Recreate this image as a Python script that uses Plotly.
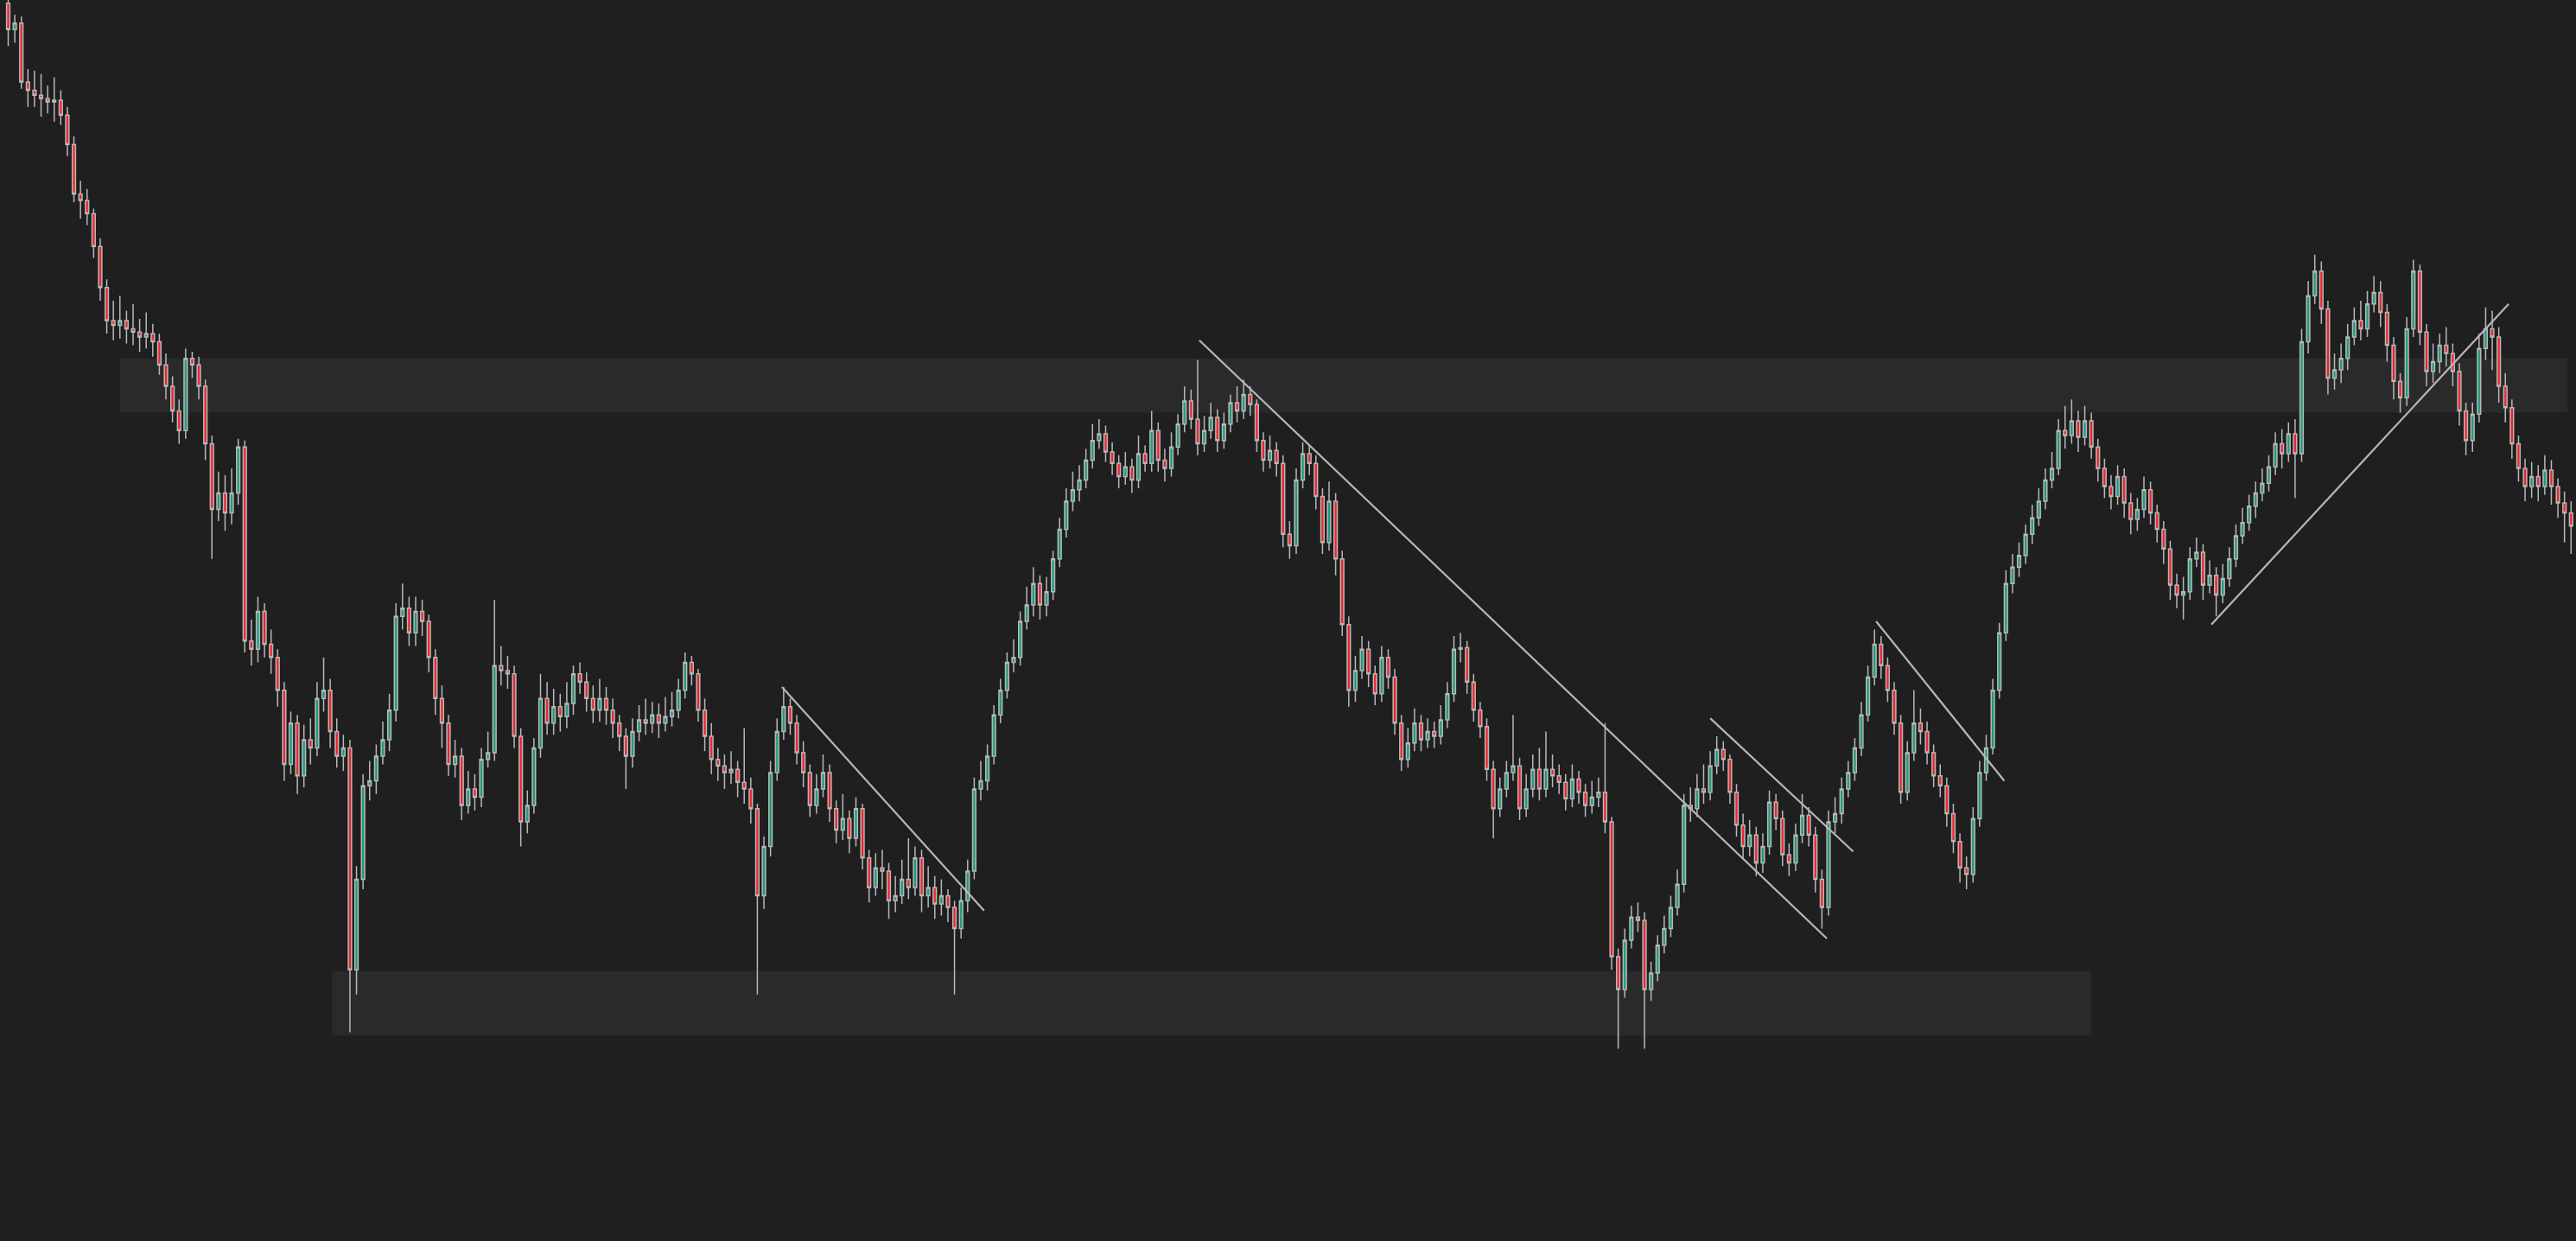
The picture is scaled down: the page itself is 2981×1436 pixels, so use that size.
import plotly.graph_objects as go

# candle values (arbitrary price units, one candle per bar)
opens = [
    753, 737, 741, 705, 700, 697, 695, 693, 694, 685, 667, 637, 633, 625, 605, 580, 560, 557, 560, 555,
    553, 550, 552, 547, 533, 520, 505, 493, 537, 533, 520, 485, 445, 455, 443, 455, 483, 365, 360, 383,
    363, 355, 335, 290, 315, 283, 305, 300, 330, 335, 310, 295, 300, 165, 220, 277, 280, 295, 305, 323,
    380, 385, 370, 383, 377, 355, 330, 315, 290, 295, 265, 275, 270, 293, 297, 350, 347, 345, 307, 255,
    265, 300, 330, 315, 325, 319, 327, 345, 340, 330, 323, 330, 323, 315, 307, 295, 310, 317, 315, 320,
    315, 319, 323, 335, 352, 345, 323, 307, 293, 289, 285, 287, 279, 275, 263, 210, 240, 285, 310, 325,
    315, 297, 285, 265, 275, 285, 263, 250, 257, 245, 263, 233, 215, 227, 225, 207, 210, 220, 215, 233,
    210, 215, 205, 210, 203, 190, 207, 225, 275, 280, 295, 320, 335, 352, 355, 377, 387, 400, 387, 395,
    415, 433, 450, 457, 463, 475, 487, 491, 480, 473, 465, 471, 463, 479, 473, 493, 475, 470, 483, 497,
    511, 500, 485, 493, 501, 487, 497, 510, 505, 515, 509, 487, 475, 481, 473, 430, 423, 463, 479, 473,
    453, 425, 450, 415, 375, 335, 347, 360, 345, 333, 355, 343, 315, 293, 303, 315, 305, 310, 307, 317,
    333, 360, 361, 340, 323, 313, 287, 263, 275, 285, 289, 263, 275, 287, 275, 287, 283, 279, 269, 281,
    273, 265, 270, 273, 255, 173, 153, 183, 197, 195, 153, 163, 180, 190, 203, 217, 265, 263, 275, 273,
    289, 299, 293, 273, 253, 240, 247, 230, 240, 267, 257, 235, 230, 247, 259, 247, 220, 203, 255, 260,
    275, 285, 300, 320, 343, 363, 350, 335, 315, 273, 297, 315, 310, 297, 283, 277, 260, 243, 227, 223,
    257, 285, 300, 335, 370, 400, 410, 417, 430, 440, 450, 463, 470, 493, 490, 499, 489, 499, 483, 470,
    459, 453, 465, 449, 439, 445, 457, 443, 433, 421, 399, 393, 395, 415, 419, 399, 405, 393, 403, 415,
    429, 437, 447, 455, 461, 471, 485, 479, 491, 479, 547, 575, 590, 567, 525, 530, 537, 550, 560, 555,
    570, 577, 565, 545, 523, 513, 555, 590, 553, 529, 535, 545, 540, 529, 505, 487, 503, 543, 555, 550,
    520, 507, 485, 470, 459, 465, 459, 469, 459, 449, 443,
]
highs = [
    758, 746, 745, 713, 712, 710, 703, 708, 700, 690, 672, 645, 640, 628, 610, 585, 572, 575, 566, 570,
    561, 565, 558, 552, 540, 526, 512, 543, 541, 538, 524, 490, 468, 466, 470, 488, 487, 378, 392, 388,
    372, 360, 340, 322, 320, 314, 318, 340, 355, 342, 318, 308, 305, 228, 284, 292, 302, 316, 333, 388,
    400, 392, 392, 390, 381, 360, 338, 320, 305, 300, 286, 284, 300, 310, 390, 362, 356, 350, 312, 274,
    306, 345, 340, 336, 333, 340, 350, 352, 346, 338, 342, 337, 330, 320, 312, 318, 326, 330, 328, 327,
    331, 334, 342, 358, 356, 348, 330, 315, 300, 296, 298, 292, 312, 282, 266, 246, 292, 318, 337, 330,
    320, 304, 290, 284, 296, 290, 268, 272, 262, 270, 266, 238, 236, 238, 230, 222, 232, 245, 240, 238,
    228, 222, 220, 214, 207, 215, 232, 282, 292, 302, 326, 342, 358, 366, 383, 398, 410, 405, 404, 420,
    440, 458, 468, 472, 482, 497, 500, 496, 486, 478, 480, 476, 490, 484, 505, 498, 482, 492, 503, 520,
    518, 536, 502, 510, 506, 504, 515, 520, 524, 520, 512, 492, 490, 486, 478, 438, 470, 486, 484, 478,
    458, 462, 455, 420, 380, 356, 368, 365, 350, 362, 360, 348, 320, 312, 324, 320, 318, 316, 326, 340,
    368, 370, 365, 345, 328, 318, 292, 282, 292, 320, 294, 284, 296, 300, 310, 296, 290, 284, 290, 286,
    278, 280, 282, 315, 258, 178, 190, 204, 206, 200, 170, 186, 198, 210, 226, 272, 276, 284, 290, 298,
    307, 304, 296, 278, 260, 256, 252, 248, 274, 272, 262, 242, 254, 272, 264, 252, 226, 262, 270, 282,
    292, 306, 328, 350, 372, 368, 355, 340, 320, 304, 335, 324, 316, 302, 290, 282, 266, 248, 234, 264,
    292, 308, 342, 376, 408, 418, 425, 436, 448, 458, 470, 480, 500, 508, 512, 505, 508, 504, 488, 476,
    466, 472, 470, 455, 452, 465, 462, 448, 438, 426, 406, 404, 422, 428, 424, 414, 410, 412, 422, 436,
    446, 454, 462, 470, 478, 492, 494, 498, 500, 555, 584, 600, 596, 572, 540, 546, 558, 568, 572, 578,
    587, 584, 570, 550, 528, 562, 597, 594, 558, 546, 552, 556, 546, 534, 510, 510, 552, 568, 566, 556,
    528, 512, 490, 476, 474, 472, 478, 475, 464, 456, 450,
]
lows = [
    727, 729, 701, 690, 690, 684, 686, 681, 679, 660, 632, 622, 618, 598, 572, 552, 548, 549, 546, 545,
    541, 543, 538, 527, 512, 498, 485, 488, 525, 512, 475, 415, 438, 432, 436, 448, 358, 350, 352, 355,
    345, 325, 280, 284, 272, 276, 290, 295, 322, 300, 288, 286, 127, 150, 214, 268, 272, 290, 298, 316,
    372, 362, 362, 368, 346, 320, 300, 283, 282, 256, 260, 262, 264, 288, 292, 338, 336, 300, 240, 248,
    260, 294, 308, 308, 310, 312, 320, 333, 322, 315, 316, 314, 306, 298, 275, 288, 304, 308, 309, 306,
    310, 313, 318, 330, 338, 316, 298, 284, 280, 275, 278, 270, 266, 254, 150, 202, 234, 280, 305, 308,
    290, 276, 258, 260, 270, 255, 242, 244, 236, 240, 226, 206, 210, 214, 196, 200, 205, 208, 210, 200,
    203, 196, 198, 194, 150, 184, 200, 220, 268, 274, 290, 315, 330, 346, 350, 372, 380, 378, 380, 390,
    410, 428, 444, 450, 458, 470, 482, 474, 466, 458, 460, 455, 458, 468, 468, 468, 462, 465, 478, 492,
    494, 478, 480, 488, 480, 482, 492, 498, 500, 502, 480, 468, 470, 465, 422, 415, 418, 458, 466, 445,
    418, 420, 405, 368, 325, 328, 342, 337, 326, 328, 336, 308, 286, 288, 298, 298, 300, 300, 302, 312,
    328, 352, 333, 316, 306, 280, 245, 258, 270, 280, 256, 258, 270, 268, 270, 276, 272, 262, 264, 266,
    258, 260, 264, 248, 165, 117, 148, 178, 188, 117, 146, 158, 175, 185, 198, 212, 255, 258, 266, 268,
    284, 286, 266, 246, 232, 234, 222, 224, 235, 250, 228, 222, 225, 242, 240, 212, 190, 198, 248, 254,
    270, 280, 295, 316, 338, 342, 328, 308, 266, 268, 292, 302, 290, 276, 270, 252, 236, 218, 214, 218,
    252, 280, 296, 330, 365, 394, 404, 412, 424, 435, 445, 458, 466, 482, 485, 480, 484, 476, 462, 452,
    445, 448, 440, 430, 432, 440, 436, 425, 412, 390, 385, 378, 390, 410, 390, 394, 380, 388, 398, 410,
    424, 432, 440, 450, 456, 466, 470, 474, 452, 474, 540, 570, 558, 515, 518, 522, 530, 545, 548, 550,
    565, 556, 535, 512, 504, 508, 550, 545, 520, 522, 528, 532, 520, 496, 478, 480, 498, 536, 530, 510,
    498, 476, 462, 450, 452, 450, 454, 448, 440, 425, 418,
]
closes = [
    737, 741, 705, 700, 697, 695, 693, 694, 685, 667, 637, 633, 625, 605, 580, 560, 557, 560, 555, 553,
    550, 552, 547, 533, 520, 505, 493, 537, 533, 520, 485, 445, 455, 443, 455, 483, 365, 360, 383, 363,
    355, 335, 290, 315, 283, 305, 300, 330, 335, 310, 295, 300, 165, 220, 277, 280, 295, 305, 323, 380,
    385, 370, 383, 377, 355, 330, 315, 290, 295, 265, 275, 270, 293, 297, 350, 347, 345, 307, 255, 265,
    300, 330, 315, 325, 319, 327, 345, 340, 330, 323, 330, 323, 315, 307, 295, 310, 317, 315, 320, 315,
    319, 323, 335, 352, 345, 323, 307, 293, 289, 285, 287, 279, 275, 263, 210, 240, 285, 310, 325, 315,
    297, 285, 265, 275, 285, 263, 250, 257, 245, 263, 233, 215, 227, 225, 207, 210, 220, 215, 233, 210,
    215, 205, 210, 203, 190, 207, 225, 275, 280, 295, 320, 335, 352, 355, 377, 387, 400, 387, 395, 415,
    433, 450, 457, 463, 475, 487, 491, 480, 473, 465, 471, 463, 479, 473, 493, 475, 470, 483, 497, 511,
    500, 485, 493, 501, 487, 497, 510, 505, 515, 509, 487, 475, 481, 473, 430, 423, 463, 479, 473, 453,
    425, 450, 415, 375, 335, 347, 360, 345, 333, 355, 343, 315, 293, 303, 315, 305, 310, 307, 317, 333,
    360, 361, 340, 323, 313, 287, 263, 275, 285, 289, 263, 275, 287, 275, 287, 283, 279, 269, 281, 273,
    265, 270, 273, 255, 173, 153, 183, 197, 195, 153, 163, 180, 190, 203, 217, 265, 263, 275, 273, 289,
    299, 293, 273, 253, 240, 247, 230, 240, 267, 257, 235, 230, 247, 259, 247, 220, 203, 255, 260, 275,
    285, 300, 320, 343, 363, 350, 335, 315, 273, 297, 315, 310, 297, 283, 277, 260, 243, 227, 223, 257,
    285, 300, 335, 370, 400, 410, 417, 430, 440, 450, 463, 470, 493, 490, 499, 489, 499, 483, 470, 459,
    453, 465, 449, 439, 445, 457, 443, 433, 421, 399, 393, 395, 415, 419, 399, 405, 393, 403, 415, 429,
    437, 447, 455, 461, 471, 485, 479, 491, 479, 547, 575, 590, 567, 525, 530, 537, 550, 560, 555, 570,
    577, 565, 545, 523, 513, 555, 590, 553, 529, 535, 545, 540, 529, 505, 487, 503, 543, 555, 550, 520,
    507, 485, 470, 459, 465, 459, 469, 459, 449, 443, 435,
]
bars = list(range(len(closes)))

# shaded zones: (first bar, last bar, bottom price, top price)
zones = [
    (17, 389.5, 504, 537),
    (49.25, 317, 125, 164),
]

# drawn trend lines: (bar0, price0, bar1, price1)
trendlines = [
    (117.75, 337, 148.5, 201),
    (181.25, 548, 276.75, 184),
    (259, 318, 280.75, 237),
    (284.25, 377, 303.75, 280),
    (335.25, 375, 380.5, 570),
]

bg = "#1f1f1f"

fig = go.Figure()

fig.add_trace(
    go.Candlestick(
        x=bars,
        open=opens,
        high=highs,
        low=lows,
        close=closes,
        increasing=dict(fillcolor="#1f9a7a", line=dict(color="#b8b8b8", width=1.5)),
        decreasing=dict(fillcolor="#f0222c", line=dict(color="#b8b8b8", width=1.5)),
        showlegend=False,
    )
)

for x0, x1, y0, y1 in zones:
    fig.add_shape(
        type="rect", x0=x0, x1=x1, y0=y0, y1=y1,
        fillcolor="#2a2a2a", line=dict(width=0), layer="below",
    )

for x0, y0, x1, y1 in trendlines:
    fig.add_shape(
        type="line", x0=x0, y0=y0, x1=x1, y1=y1,
        line=dict(color="#b8b8b8", width=2.2),
    )

fig.update_layout(
    width=2981,
    height=1436,
    margin=dict(l=0, r=0, t=0, b=0),
    paper_bgcolor=bg,
    plot_bgcolor=bg,
    xaxis=dict(visible=False, range=[-1.25, 390.75], rangeslider=dict(visible=False)),
    yaxis=dict(visible=False, range=[0, 755]),
)

fig.write_html(
    "out.html",
    config={"displayModeBar": False},
    post_script="document.body.style.margin='0';",
)
